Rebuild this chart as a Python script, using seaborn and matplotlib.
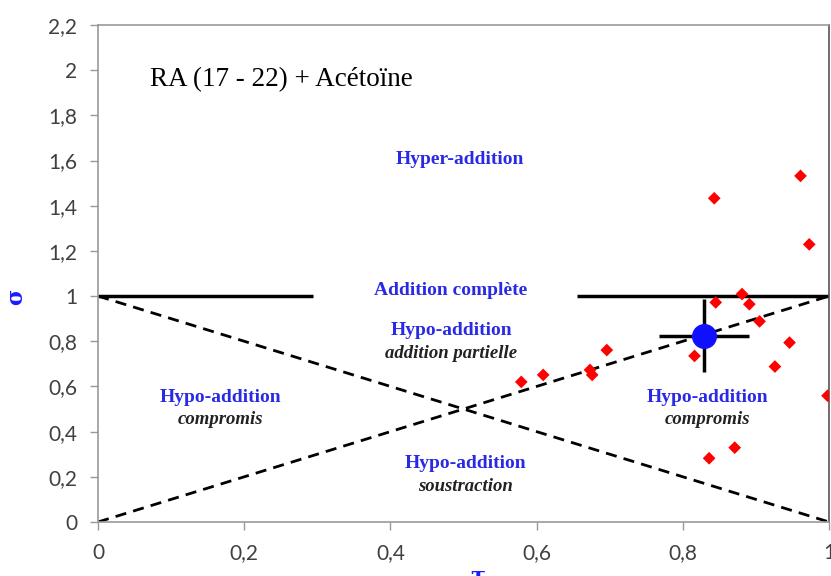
import matplotlib
matplotlib.use("Agg")
import matplotlib.pyplot as plt
import seaborn as sns
import pandas as pd

# Individual mixtures (tau, sigma)
tau_values = [0.579, 0.609, 0.673, 0.676, 0.696, 0.816, 0.836, 0.843, 0.845,
              0.871, 0.881, 0.891, 0.905, 0.926, 0.946, 0.961, 0.973, 0.998]
sigma_values = [0.620, 0.651, 0.673, 0.651, 0.761, 0.735, 0.282, 1.433, 0.972,
                0.329, 1.009, 0.964, 0.888, 0.688, 0.794, 1.532, 1.229, 0.559]

# Mean point with its spread
mean_tau = 0.829
mean_sigma = 0.825
tau_err = 0.062
sigma_err = 0.16

x_ticks = [0, 0.2, 0.4, 0.6, 0.8, 1]
x_tick_labels = ["0", "0,2", "0,4", "0,6", "0,8", "1"]
y_ticks = [0, 0.2, 0.4, 0.6, 0.8, 1, 1.2, 1.4, 1.6, 1.8, 2, 2.2]
y_tick_labels = ["0", "0,2", "0,4", "0,6", "0,8", "1", "1,2", "1,4", "1,6", "1,8", "2", "2,2"]

sns.set_theme(style="white")
plt.rcParams["font.family"] = ["Lato", "DejaVu Sans"]

fig = plt.figure(figsize=(8.31, 5.76), dpi=100)
ax = fig.add_axes([0.118, 0.0938, 0.8796, 0.8628])

df = pd.DataFrame({"tau": tau_values, "sigma": sigma_values})

# Reference lines: diagonals and the complete-addition level
ax.plot([0, 1], [1, 0], color="black", lw=2, ls=(0, (4, 2.6)), zorder=2)
ax.plot([0, 1], [0, 1], color="black", lw=2, ls=(0, (4, 2.6)), zorder=2)
ax.plot([0, 0.294], [1, 1], color="black", lw=2.5, solid_capstyle="butt", zorder=2)
ax.plot([0.655, 1], [1, 1], color="black", lw=2.5, solid_capstyle="butt", zorder=2)

sns.scatterplot(data=df, x="tau", y="sigma", marker="D", color="#ff0000",
                s=42, edgecolor="none", ax=ax, zorder=3)

ax.errorbar([mean_tau], [mean_sigma], xerr=[tau_err], yerr=[sigma_err],
            fmt="o", color="#1010ff", markersize=17, ecolor="black",
            elinewidth=2.5, capsize=0, zorder=4)

ax.set_xlim(0, 1)
ax.set_ylim(0, 2.2)
ax.set_xticks(x_ticks)
ax.set_xticklabels(x_tick_labels)
ax.set_yticks(y_ticks)
ax.set_yticklabels(y_tick_labels)
ax.tick_params(axis="both", which="major", direction="out", length=6, width=1,
               color="#999999", labelcolor="#404040", labelsize=15, pad=9,
               bottom=True, left=True)
for side in ["left", "bottom", "top", "right"]:
    ax.spines[side].set_color("#999999")
    ax.spines[side].set_linewidth(1.2)
ax.spines["right"].set_color("#555555")

ax.set_xlabel("τ", color="#1a1aff", fontsize=16, fontweight="bold",
              family=["DejaVu Serif"])
ax.set_ylabel("σ", color="#1a1aff", fontsize=16, fontweight="bold",
              family=["DejaVu Serif"])
ax.xaxis.set_label_coords(0.52, -0.087)
ax.yaxis.set_label_coords(-0.097, 0.453)

serif = ["Liberation Serif", "DejaVu Serif"]
blue = "#2a2ae6"
dark = "#222222"

ax.text(0.071, 1.957, "RA (17 - 22) + Acétoïne", fontsize=19.5, family=serif,
        color="black", ha="left", va="center")

# Region names
blue_labels = [
    (0.495, 1.603, "Hyper-addition"),
    (0.483, 1.023, "Addition complète"),
    (0.483, 0.846, "Hypo-addition"),
    (0.167, 0.553, "Hypo-addition"),
    (0.834, 0.553, "Hypo-addition"),
    (0.502, 0.261, "Hypo-addition"),
]
for x, y, s in blue_labels:
    ax.text(x, y, s, fontsize=14, family=serif, fontweight="bold",
            color=blue, ha="center", va="center")

italic_labels = [
    (0.483, 0.744, "addition partielle"),
    (0.167, 0.452, "compromis"),
    (0.834, 0.452, "compromis"),
    (0.502, 0.155, "soustraction"),
]
for x, y, s in italic_labels:
    ax.text(x, y, s, fontsize=13.5, family=serif, fontweight="bold",
            fontstyle="italic", color=dark, ha="center", va="center")

fig.savefig("out.png", dpi=100)
